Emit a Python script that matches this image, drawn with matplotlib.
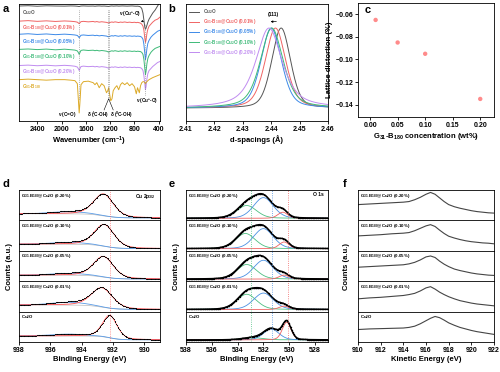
import numpy as np
import matplotlib.pyplot as plt

plt.rcParams['font.family'] = ['Liberation Sans', 'DejaVu Sans']
plt.rcParams['font.weight'] = 'bold'
plt.rcParams['axes.labelweight'] = 'bold'
plt.rcParams['mathtext.default'] = 'regular'
plt.rcParams['axes.linewidth'] = 0.6
plt.rcParams['xtick.major.width'] = 0.6
plt.rcParams['ytick.major.width'] = 0.6
plt.rcParams['xtick.major.size'] = 2
plt.rcParams['ytick.major.size'] = 2
plt.rcParams['xtick.major.pad'] = 1.5
plt.rcParams['ytick.major.pad'] = 1.5
plt.rcParams['xtick.labelsize'] = 5
plt.rcParams['ytick.labelsize'] = 5
plt.rcParams['axes.labelsize'] = 5.5

# =============================================================================
# data
# =============================================================================
samples = ['Cu$_2$O',
           'G$_{31}$-B$_{180}$@Cu$_2$O (0.01%)',
           'G$_{31}$-B$_{180}$@Cu$_2$O (0.05%)',
           'G$_{31}$-B$_{180}$@Cu$_2$O (0.10%)',
           'G$_{31}$-B$_{180}$@Cu$_2$O (0.20%)']
colors = ['#555555', '#f06464', '#3d8ae8', '#3dba78', '#c08cf0']
gold = '#dcaa28'

# a: FTIR
a_wn = [2700, 2550, 2400, 2250, 2100, 1950, 1850, 1780, 1740, 1720,
        1710, 1700, 1680, 1640, 1560, 1480, 1450, 1420, 1380, 1340,
        1300, 1260, 1240, 1225, 1210, 1190, 1170, 1150, 1120, 1090,
        1060, 1030, 1000, 960, 920, 880, 840, 800, 770, 750,
        720, 700, 680, 660, 645, 630, 620, 610, 595, 580,
        560, 530, 500, 460, 420, 380]
a_cu2o = [114, 114.3, 113.8, 114.2, 114, 113.9, 114.1, 114, 113.8, 113.6,
          113.5, 113.7, 114, 114.1, 113.9, 114, 113.8, 114, 114.1, 113.9,
          114, 113.8, 113.7, 113.6, 113.8, 114, 114.1, 113.9, 114, 114.1,
          113.9, 114, 114.1, 114, 113.9, 114, 114.1, 113.9, 113.8, 113.9,
          113.6, 113, 111.5, 107, 100, 93, 91, 92, 95, 98,
          101, 104, 107, 110, 114, 118]
a_001 = [99, 99.5, 98.8, 99.3, 98.7, 99.2, 98.9, 98.5, 98, 97,
         96.5, 97.2, 98.5, 98.8, 98.3, 98.7, 98.2, 98.6, 98, 98.4,
         98.1, 97.8, 97.4, 97.2, 97.6, 97.9, 98.2, 97.8, 98.3, 98,
         97.6, 98.1, 97.8, 98.2, 97.7, 98, 97.6, 97.9, 97.5, 97.8,
         97.4, 97, 96, 94, 90, 82, 78, 80, 87, 91,
         94, 96, 98, 100, 101, 103]
a_005 = [86, 86.5, 85.8, 86.3, 85.6, 86.1, 85.7, 85.3, 84.8, 83.5,
         82.5, 83.4, 85, 85.3, 84.8, 85.1, 84.6, 85, 84.4, 84.8,
         84.5, 84.2, 83.7, 83.4, 83.9, 84.3, 84.6, 84.2, 84.7, 84.3,
         84, 84.5, 84.1, 84.6, 84.1, 84.4, 84, 84.3, 83.9, 84.2,
         84, 83.8, 83, 81, 76, 67, 61, 64, 72, 77,
         80, 83, 85, 87, 89, 90]
a_010 = [71, 71.4, 70.8, 71.3, 70.6, 71.2, 70.7, 70.3, 69.5, 67.5,
         66, 67.5, 70, 70.4, 69.9, 70.2, 69.7, 70.1, 69.5, 69.9,
         69.6, 69.2, 68.7, 68.3, 68.8, 69.3, 69.6, 69.2, 69.7, 69.3,
         69, 69.5, 69.1, 69.6, 69.1, 69.4, 69, 69.3, 68.9, 69.2,
         69, 68.8, 68, 66, 61, 52, 46, 49, 57, 62,
         65, 68, 70, 72, 73, 74]
a_020 = [55, 55.4, 54.8, 55.3, 54.7, 55.2, 54.8, 54.3, 53.5, 51.5,
         50, 51.5, 54, 54.4, 53.9, 54.2, 53.7, 54.1, 53.5, 53.9,
         53.6, 53.2, 52.7, 52.4, 52.8, 53.3, 53.6, 53.2, 53.7, 53.3,
         53, 53.5, 53.1, 53.6, 53.1, 53.4, 53, 53.3, 52.9, 53.2,
         53, 52.8, 52, 50, 45, 37, 31, 34, 42, 47,
         50, 52, 54, 56, 58, 59]
a_gb = [41, 41.5, 41, 40.5, 41, 41, 40.5, 40, 37, 18,
        8, 16, 36, 39, 39.5, 38, 36, 38, 33, 37,
        35, 28, 30, 33, 27, 20, 22, 30, 33, 35,
        31, 36, 38, 36, 38, 35, 37, 34, 27, 33,
        28, 35, 38, 39, 39, 38, 37, 38, 39, 40,
        41, 42, 43, 44, 45, 46]
a_label_y = [108, 93, 79, 64, 49, 34]

# b: (111) peak, pseudo-Voigt
b_center = [2.4435, 2.4415, 2.4400, 2.4402, 2.4392]
b_fwhm = [0.0078, 0.0085, 0.0085, 0.0095, 0.0110]
b_eta = [0.3, 0.4, 0.4, 0.5, 0.7]

# c: lattice distortion
c_conc = [0.01, 0.05, 0.10, 0.20]
c_dist = [-0.065, -0.085, -0.095, -0.135]

# d: Cu 2p3/2 (top to bottom: 0.20, 0.10, 0.05, 0.01, Cu2O)
stack_labels = [samples[4], samples[3], samples[2], samples[1], samples[0]]
d_center = [932.6, 932.55, 932.6, 932.7, 932.2]
d_fwhm = [1.5, 1.5, 1.5, 1.6, 1.1]
d_height = [0.72, 0.72, 0.68, 0.64, 0.74]
d_bg_left = [0.22, 0.22, 0.20, 0.22, 0.20]
d_bg_right = [0.08, 0.07, 0.07, 0.07, 0.07]
d_sat_height = [0.07, 0.06, 0.06, 0.09, 0.06]

# e: O 1s components
e_green_c = [533.3, 533.4, 533.3, 533.3, 532.8]
e_green_h = [0.42, 0.50, 0.48, 0.50, 0.07]
e_green_w = [1.8, 1.8, 1.8, 1.8, 1.9]
e_blue_c = [532.0, 532.0, 532.0, 532.0, 531.4]
e_blue_h = [0.68, 0.66, 0.62, 0.54, 0.36]
e_blue_w = [1.8, 1.8, 1.8, 1.8, 1.4]
e_red_c = [530.5, 530.4, 530.4, 530.4, 530.2]
e_red_h = [0.20, 0.22, 0.13, 0.11, 0.58]
e_red_w = [0.9, 0.9, 0.9, 0.9, 0.8]

# f: Cu LMM
f_ke = [910, 911, 912, 913, 914, 914.5, 915, 915.5, 916, 916.4, 916.8,
        917.2, 917.6, 918, 918.5, 919, 919.5, 920, 920.5, 921, 921.5, 922]
f_counts = [
    [0.52, 0.54, 0.56, 0.58, 0.60, 0.62, 0.68, 0.76, 0.86, 0.92, 0.86,
     0.74, 0.62, 0.52, 0.45, 0.40, 0.36, 0.32, 0.29, 0.27, 0.25, 0.24],
    [0.49, 0.51, 0.53, 0.56, 0.58, 0.60, 0.66, 0.74, 0.82, 0.86, 0.80,
     0.68, 0.57, 0.48, 0.42, 0.37, 0.33, 0.30, 0.28, 0.26, 0.25, 0.23],
    [0.46, 0.48, 0.50, 0.52, 0.54, 0.57, 0.62, 0.70, 0.80, 0.83, 0.78,
     0.66, 0.56, 0.48, 0.40, 0.35, 0.31, 0.27, 0.24, 0.22, 0.20, 0.19],
    [0.42, 0.45, 0.47, 0.50, 0.53, 0.56, 0.60, 0.68, 0.78, 0.82, 0.74,
     0.64, 0.56, 0.49, 0.42, 0.36, 0.32, 0.28, 0.25, 0.23, 0.21, 0.19],
    [0.41, 0.43, 0.44, 0.45, 0.46, 0.48, 0.52, 0.60, 0.70, 0.78, 0.84,
     0.80, 0.72, 0.63, 0.55, 0.48, 0.43, 0.38, 0.34, 0.31, 0.28, 0.25],
]


def pv(x, c, fwhm, h, eta=0.4):
    s = fwhm / 2
    lor = 1 / (1 + ((x - c) / s) ** 2)
    gau = np.exp(-np.log(2) * ((x - c) / s) ** 2)
    return h * (eta * lor + (1 - eta) * gau)


W, H = 500, 372


def box(x0, y0, x1, y1):
    return [x0 / W, 1 - y1 / H, (x1 - x0) / W, (y1 - y0) / H]


fig = plt.figure(figsize=(5, 3.72), dpi=100)

# =============================================================================
# a
# =============================================================================
ax = fig.add_axes(box(19, 4, 160, 121))
a_spec = [a_cu2o, a_001, a_005, a_010, a_020, a_gb]
a_cols = colors + [gold]
a_names = samples + ['G$_{31}$-B$_{180}$']
for vals, col in zip(a_spec, a_cols):
    ax.plot(a_wn, vals, color=col, lw=0.7)
for name, col, yy in zip(a_names, a_cols, a_label_y):
    ax.text(2650, yy, name, color=col, fontsize=3.3, va='center')
for xv in [1710, 1232, 1218]:
    ax.plot([xv, xv], [22, 110], color='#777777', lw=0.5, ls=':')
ax.plot([620, 620], [26, 96], color='#777777', lw=0.5, ls=':')
ax.text(1760, 6, r'$\nu$ (C=O)', fontsize=3.3, ha='right', va='center')
ax.plot([1300, 1225, 1150], [11, 22, 11], color='k', lw=0.4)
ax.text(1400, 6, r'$\delta$ ($^{I}$C-OH)', fontsize=3.3, ha='center', va='center')
ax.text(1020, 6, r'$\delta$ ($^{II}$C-OH)', fontsize=3.3, ha='center', va='center')
ax.annotate(r'$\nu$ (Cu$^{+}$-O)', xy=(645, 98), xytext=(880, 106), fontsize=3.3,
            ha='center', va='center',
            arrowprops=dict(arrowstyle='-|>', lw=0.4, color='k', mutation_scale=3))
ax.text(600, 19, r'$\nu$ (Cu$^{+}$-O)', fontsize=3.3, ha='center', va='center')
ax.set_xlim(2700, 380)
ax.set_ylim(0, 116)
ax.set_yticks([])
ax.set_xticks([2400, 2000, 1600, 1200, 800, 400])
ax.set_xlabel('Wavenumber (cm$^{-1}$)', labelpad=1.5)

# =============================================================================
# b
# =============================================================================
ax = fig.add_axes(box(186, 4, 328, 121))
xb = np.linspace(2.41, 2.46, 500)
for c, w, eta, col, lab in zip(b_center, b_fwhm, b_eta, colors, samples):
    ax.plot(xb, pv(xb, c, w, 1, eta), color=col, lw=0.7, label=lab)
leg = ax.legend(loc='upper left', fontsize=3.3, frameon=False, handlelength=2.2,
                labelcolor='linecolor', borderaxespad=0.3, labelspacing=0.25)
ax.text(2.4408, 1.17, '(111)', fontsize=3.6, ha='center', va='center')
ax.annotate('', xy=(2.4388, 1.08), xytext=(2.4428, 1.08),
            arrowprops=dict(arrowstyle='-|>', lw=0.5, color='k', mutation_scale=3))
ax.set_xlim(2.41, 2.46)
ax.set_ylim(-0.16, 1.3)
ax.set_yticks([])
ax.set_xticks([2.41, 2.42, 2.43, 2.44, 2.45, 2.46])
ax.set_xlabel('d-spacings (Å)', labelpad=1.5)

# =============================================================================
# c
# =============================================================================
ax = fig.add_axes(box(358, 3, 494, 117))
ax.scatter(c_conc, c_dist, s=10, color='#ff5a5a', alpha=0.7, edgecolors='none')
ax.set_xlim(-0.022, 0.225)
ax.set_ylim(-0.151, -0.05)
ax.set_xticks([0.00, 0.05, 0.10, 0.15, 0.20])
ax.set_yticks([-0.06, -0.08, -0.10, -0.12, -0.14])
ax.set_xticklabels(['0.00', '0.05', '0.10', '0.15', '0.20'])
ax.set_yticklabels(['−0.06', '−0.08', '−0.10', '−0.12', '−0.14'])
ax.set_xlabel('G$_{31}$-B$_{180}$ concentration (wt%)', labelpad=1.5)
ax.set_ylabel('Lattice distortion (%)', labelpad=1.5)


# =============================================================================
# bottom row: stacks of 5
# =============================================================================
def make_stack(x0, x1, y0=190, y1=342):
    hh = (y1 - y0) / 5
    axs = []
    for i in range(5):
        a = fig.add_axes(box(x0, y0 + i * hh, x1, y0 + (i + 1) * hh))
        a.set_yticks([])
        a.set_ylim(0, 1)
        if i < 4:
            a.tick_params(bottom=False, labelbottom=False)
        a.text(0.015, 0.95, stack_labels[i], transform=a.transAxes,
               fontsize=3.2, va='top', ha='left')
        axs.append(a)
    return axs


# d
axs = make_stack(19, 160)
xd = np.linspace(929, 938, 181)
for i, a in enumerate(axs):
    main = pv(xd, d_center[i], d_fwhm[i], d_height[i], 0.35)
    frac = np.cumsum(main) / np.sum(main)
    bg = d_bg_right[i] + (d_bg_left[i] - d_bg_right[i]) * frac
    sat = pv(xd, 934.8, 2.6, d_sat_height[i], 0.0)
    a.plot(xd, bg, color='#bbbbbb', lw=0.5)
    a.plot(xd, bg + sat, color='#5a9be6', lw=0.6)
    a.plot(xd, bg + main, color='#ff5050', lw=0.6)
    a.plot(xd, bg + main + sat, 'o', color='k', ms=0.8, mew=0)
    a.axvline(932.2, color='#ff5050', lw=0.5, ls=':')
    a.set_xlim(938, 929)
axs[0].text(0.97, 0.92, 'Cu 2p$_{3/2}$', transform=axs[0].transAxes,
            fontsize=3.6, ha='right', va='top')
axs[-1].set_xticks([938, 936, 934, 932, 930])
axs[-1].set_xlabel('Binding Energy (eV)', labelpad=1.5)
fig.text(10 / W, 1 - 266 / H, 'Counts (a.u.)', rotation=90, fontsize=5.5,
         fontweight='bold', ha='center', va='center')

# e
axs = make_stack(186, 328)
xe = np.linspace(527, 538, 221)
for i, a in enumerate(axs):
    g = pv(xe, e_green_c[i], e_green_w[i], e_green_h[i], 0.2)
    bl = pv(xe, e_blue_c[i], e_blue_w[i], e_blue_h[i], 0.2)
    r = pv(xe, e_red_c[i], e_red_w[i], e_red_h[i], 0.2)
    base = 0.07
    a.plot(xe, base + g, color='#4dbf80', lw=0.6)
    a.plot(xe, base + bl, color='#4a90e2', lw=0.6)
    a.plot(xe, base + r, color='#f06060', lw=0.6)
    a.plot(xe, base + g + bl + r, color='k', lw=1.0)
    a.plot(xe, base + g + bl + r, 'o', color='k', ms=1.0, mew=0)
    a.axvline(533.0, color='#4dbf80', lw=0.6, ls=':')
    a.axvline(531.3, color='#4a90e2', lw=0.6, ls=':')
    a.axvline(530.1, color='#f06060', lw=0.6, ls=':')
    a.set_xlim(538, 527)
axs[0].text(0.97, 0.92, 'O 1s', transform=axs[0].transAxes,
            fontsize=3.6, ha='right', va='top')
axs[-1].set_xticks([538, 536, 534, 532, 530, 528])
axs[-1].set_xlabel('Binding Energy (eV)', labelpad=1.5)
fig.text(176 / W, 1 - 266 / H, 'Counts (a.u.)', rotation=90, fontsize=5.5,
         fontweight='bold', ha='center', va='center')

# f
axs = make_stack(358, 494)
for i, a in enumerate(axs):
    a.plot(f_ke, f_counts[i], color='#454545', lw=0.8)
    a.set_xlim(910, 922)
axs[-1].set_xticks([910, 912, 914, 916, 918, 920, 922])
axs[-1].set_xlabel('Kinetic Energy (eV)', labelpad=1.5)
fig.text(347 / W, 1 - 266 / H, 'Counts (a.u.)', rotation=90, fontsize=5.5,
         fontweight='bold', ha='center', va='center')

# panel letters
for lab, xp, yp in [('a', 6, 9), ('b', 172, 9), ('c', 368, 10),
                    ('d', 6, 184), ('e', 172, 184), ('f', 345, 184)]:
    fig.text(xp / W, 1 - yp / H, lab, fontsize=8, fontweight='bold',
             ha='center', va='center')

fig.savefig('out.png', dpi=100)
